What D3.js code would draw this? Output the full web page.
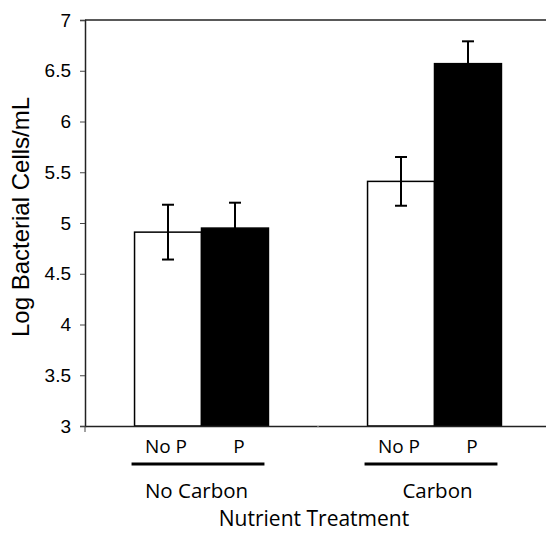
<!DOCTYPE html>
<html>
<head>
<meta charset="utf-8">
<script src="https://cdn.jsdelivr.net/npm/d3@7"></script>
<style>
  body { margin: 0; background: #fff; }
  svg { display: block; }
</style>
</head>
<body>
<div id="wrapper"></div>
<script>
// chart values
const groups = ["No Carbon", "Carbon"]
const treatments = ["No P", "P"]
const means = [[4.91, 4.95], [5.41, 6.57]]
const errors = [[0.27, 0.25], [0.24, 0.22]]
const yTicks = [3, 3.5, 4, 4.5, 5, 5.5, 6, 6.5, 7]
const fills = ["#fff", "#000"]

let dimensions = {
    width: 546,
    height: 534,
    margin: { top: 20, right: -5, bottom: 108, left: 85 },
}
dimensions.boundedWidth = dimensions.width - dimensions.margin.left - dimensions.margin.right
dimensions.boundedHeight = dimensions.height - dimensions.margin.top - dimensions.margin.bottom

const data = groups.flatMap((g, i) => treatments.map((t, j) => ({
    group: g, treatment: t, value: means[i][j], err: errors[i][j], fill: fills[j],
})))

const svg = d3.select("#wrapper")
    .append("svg")
    .attr("width", dimensions.width)
    .attr("height", dimensions.height)
    .style("overflow", "hidden")

const bounds = svg.append("g")
    .attr("transform", `translate(${dimensions.margin.left},${dimensions.margin.top})`)

const yScale = d3.scaleLinear()
    .domain([3, 7])
    .range([dimensions.boundedHeight, 0])

const x0 = d3.scaleBand()
    .domain(groups)
    .range([0, dimensions.boundedWidth])

const x1 = d3.scaleBand()
    .domain(treatments)
    .range([0, x0.bandwidth()])
    .paddingOuter(0.74)

// top frame line
bounds.append("line")
    .attr("x1", 0).attr("x2", dimensions.boundedWidth)
    .attr("y1", 0).attr("y2", 0)
    .attr("stroke", "#222").attr("stroke-width", 1.5)

// bars
const barGroups = bounds.selectAll(".grp")
    .data(groups)
    .join("g")
    .attr("transform", d => `translate(${x0(d)},0)`)

barGroups.selectAll("rect")
    .data(g => data.filter(d => d.group === g))
    .join("rect")
    .attr("x", d => x1(d.treatment))
    .attr("y", d => yScale(d.value))
    .attr("width", x1.bandwidth())
    .attr("height", d => dimensions.boundedHeight - yScale(d.value))
    .attr("fill", d => d.fill)
    .attr("stroke", "#000")
    .attr("stroke-width", 1.5)

// error bars
const errG = barGroups.selectAll(".err")
    .data(g => data.filter(d => d.group === g))
    .join("g")
    .attr("class", "err")
    .attr("transform", d => `translate(${x1(d.treatment) + x1.bandwidth() / 2},0)`)

errG.append("line")
    .attr("y1", d => yScale(d.value + d.err))
    .attr("y2", d => yScale(d.value - d.err))
    .attr("stroke", "#000")
    .attr("stroke-width", 2)

errG.selectAll(".cap")
    .data(d => [d.value + d.err, d.value - d.err])
    .join("line")
    .attr("x1", -6).attr("x2", 6)
    .attr("y1", d => yScale(d)).attr("y2", d => yScale(d))
    .attr("stroke", "#000")
    .attr("stroke-width", 2)

// y axis
const yAxis = d3.axisLeft(yScale)
    .tickValues(yTicks)
    .tickSize(5)
    .tickPadding(9)
    .tickFormat(d3.format("~g"))

const yAxisG = bounds.append("g").call(yAxis)
yAxisG.select(".domain").attr("stroke", "#222").attr("stroke-width", 1.5)
yAxisG.selectAll(".tick line").attr("stroke", "#444")
yAxisG.selectAll("text")
    .attr("font-family", "Liberation Sans, Arial, sans-serif")
    .attr("font-size", 19)
    .attr("fill", "#000")

// x axis line + small ticks
const xAxis = d3.axisBottom(x0)
    .tickValues([])
    .tickSizeOuter(0)
const xAxisG = bounds.append("g")
    .attr("transform", `translate(0,${dimensions.boundedHeight})`)
    .call(xAxis)
xAxisG.select(".domain").attr("stroke", "#222").attr("stroke-width", 1.5)

xAxisG.selectAll(".sep")
    .data(groups)
    .join("line")
    .attr("x1", d => x0(d)).attr("x2", d => x0(d))
    .attr("y1", 0).attr("y2", (d, i) => i === 0 ? 6 : 2)
    .attr("stroke", (d, i) => i === 0 ? "#444" : "#bbb")
    .attr("stroke-width", 1)

// category labels
const catFont = "Open Sans, Noto Sans, sans-serif"
const labelG = bounds.append("g")
    .attr("transform", `translate(0,${dimensions.boundedHeight})`)

const lg = labelG.selectAll(".lab")
    .data(groups)
    .join("g")
    .attr("transform", d => `translate(${x0(d)},0)`)

lg.selectAll(".tr")
    .data(treatments)
    .join("text")
    .attr("x", d => x1(d) + x1.bandwidth() / 2 + (d === "No P" ? -2 : 4))
    .attr("y", 27)
    .attr("text-anchor", "middle")
    .attr("font-family", catFont)
    .attr("font-size", 19)
    .text(d => d)

lg.append("line")
    .attr("x1", x1("No P") - 3)
    .attr("x2", x1("P") + x1.bandwidth() - 4)
    .attr("y1", 38).attr("y2", 38)
    .attr("stroke", "#000").attr("stroke-width", 3)

lg.append("text")
    .attr("x", (d, i) => x0.bandwidth() / 2 + (i === 0 ? -5 : 3))
    .attr("y", 72)
    .attr("text-anchor", "middle")
    .attr("font-family", catFont)
    .attr("font-size", 20.5)
    .text(d => d)

// axis titles
bounds.append("text")
    .attr("x", 229)
    .attr("y", dimensions.boundedHeight + 100)
    .attr("text-anchor", "middle")
    .attr("font-family", catFont)
    .attr("font-size", 21)
    .text("Nutrient Treatment")

bounds.append("text")
    .attr("transform", `translate(${-56},${197}) rotate(-90)`)
    .attr("text-anchor", "middle")
    .attr("font-family", "Liberation Sans, Arial, sans-serif")
    .attr("font-size", 24)
    .text("Log Bacterial Cells/mL")
</script>
</body>
</html>
